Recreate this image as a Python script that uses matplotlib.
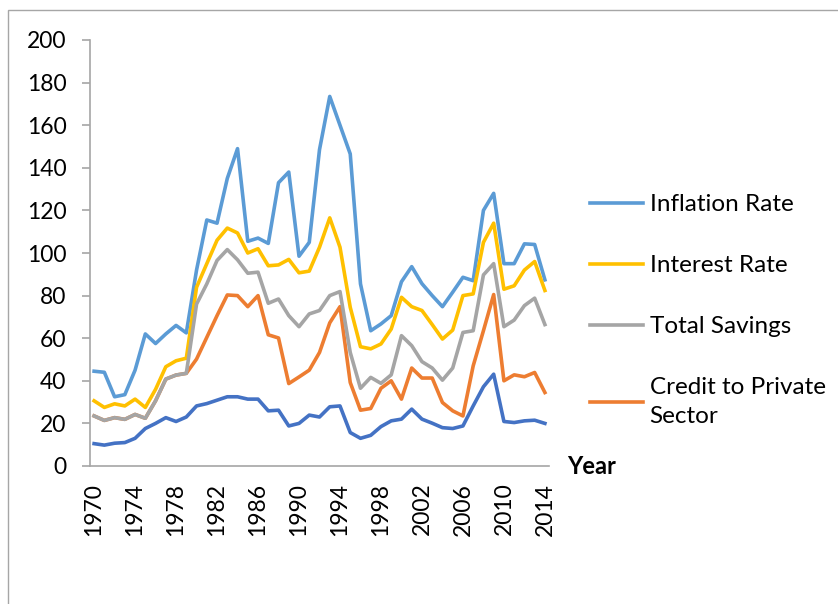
import numpy as np
import matplotlib
matplotlib.use('Agg')
from matplotlib import pyplot as plt
from matplotlib.patches import Rectangle

plt.rcParams['font.family'] = ['Lato', 'DejaVu Sans']

years = list(range(1970, 2015))

inflation = [44.5, 44, 32.5, 33.5, 45, 62, 57.5, 62, 66, 62.5,
             92, 115.5, 114, 135, 149, 105.5, 107, 104.5, 133, 138,
             98.5, 105, 148.5, 173.5, 160, 146.5, 85.5, 63.5, 66.7, 70.6,
             86.5, 93.6, 85.6, 80, 74.8, 81.6, 88.6, 87, 120, 128,
             95, 95, 104.3, 104, 87.4]

interest = [30.6, 27.5, 29.2, 28.2, 31.4, 27.5, 36, 46.6, 49.4, 50.6,
            83.9, 95, 106, 111.7, 109.4, 100, 102, 94, 94.4, 97,
            90.7, 91.5, 102.7, 116.5, 102.7, 74.5, 56, 55, 57.3, 64.3,
            79.2, 74.8, 73, 66.4, 59.6, 63.8, 80, 80.8, 105, 114,
            83, 84.6, 92, 96, 82.4]

savings = [23.5, 21.4, 22.7, 21.9, 24.2, 22.4, 30.6, 40.8, 42.7, 43.5,
           76, 85.5, 96.5, 101.6, 96.8, 90.5, 91, 76.4, 78.4, 70.6,
           65.4, 71.4, 73, 80, 81.9, 53.3, 36.5, 41.6, 38.8, 42.8,
           61.2, 56.5, 49, 46, 40.3, 46, 62.7, 63.5, 89.7, 95,
           65.4, 68.5, 75.3, 78.8, 66.4]

credit = [23.5, 21.4, 22.7, 21.9, 24.2, 22.4, 30.6, 40.8, 42.7, 43.5,
          50.2, 60.4, 70.6, 80.3, 80, 74.8, 80, 61.6, 60.1, 38.7,
          41.8, 45, 53.3, 67.2, 74.8, 39.2, 26.2, 27, 36.5, 40,
          31.4, 46, 41.3, 41.3, 29.8, 25.9, 23.5, 47, 63.5, 80.5,
          40, 42.8, 41.9, 43.9, 34.5]

base = [10.5, 9.8, 10.7, 11, 13, 17.6, 20, 22.7, 20.9, 23,
        28.2, 29.3, 30.9, 32.5, 32.5, 31.4, 31.4, 25.9, 26.2, 18.8,
        20, 23.9, 23, 27.8, 28.2, 15.7, 13, 14.4, 18.5, 21.2,
        22, 26.7, 22, 20.1, 18, 17.6, 18.8, 28.2, 37.2, 43.1,
        20.9, 20.4, 21.2, 21.5, 20]

fig = plt.figure(figsize=(8.38, 6.04), dpi=100)
fig.patches.append(Rectangle((8 / 838, -0.01), 1.0, 1 - 10 / 604 + 0.01,
                             transform=fig.transFigure, fill=False,
                             edgecolor='#a6a6a6', linewidth=1.0))

ax = fig.add_axes([90 / 838, 1 - 466 / 604, 459 / 838, 426 / 604])

lw = 2.6
ax.plot(years, inflation, color='#5B9BD5', lw=lw, label='Inflation Rate', zorder=2)
ax.plot(years, interest, color='#FFC000', lw=lw, label='Interest Rate', zorder=2)
ax.plot(years, savings, color='#A5A5A5', lw=lw, label='Total Savings', zorder=4)
ax.plot(years, credit, color='#ED7D31', lw=lw, label='Credit to Private\nSector', zorder=3)
ax.plot(years, base, color='#4472C4', lw=lw, label='_nolegend_', zorder=5)

ax.set_xlim(1969.6, 2014.4)
ax.set_ylim(0, 200)
ax.set_yticks(range(0, 201, 20))
ax.set_xticks(range(1970, 2015, 4))

for s in ['top', 'right']:
    ax.spines[s].set_visible(False)
for s in ['left', 'bottom']:
    ax.spines[s].set_color('#a6a6a6')
    ax.spines[s].set_linewidth(1.2)

ax.tick_params(axis='y', length=6, color='#a6a6a6', width=1.2, pad=11,
               labelsize=16.5)
ax.tick_params(axis='x', length=0, pad=12, labelsize=16.5, labelrotation=90)

ax.text(567 / 838, 1 - 466 / 604, 'Year', transform=fig.transFigure,
        fontsize=17, fontweight='bold', va='center', ha='left')

h, l = ax.get_legend_handles_labels()
leg = fig.legend(h, l, loc='upper left', bbox_to_anchor=(590 / 838, 1 - 194 / 604),
                 frameon=False, fontsize=17.5, handlelength=2.2, handletextpad=0.25,
                 labelspacing=1.65, borderpad=0, borderaxespad=0)
leg.get_texts()[-1].set_linespacing(1.45)

fig.savefig('out.png', dpi=100)
